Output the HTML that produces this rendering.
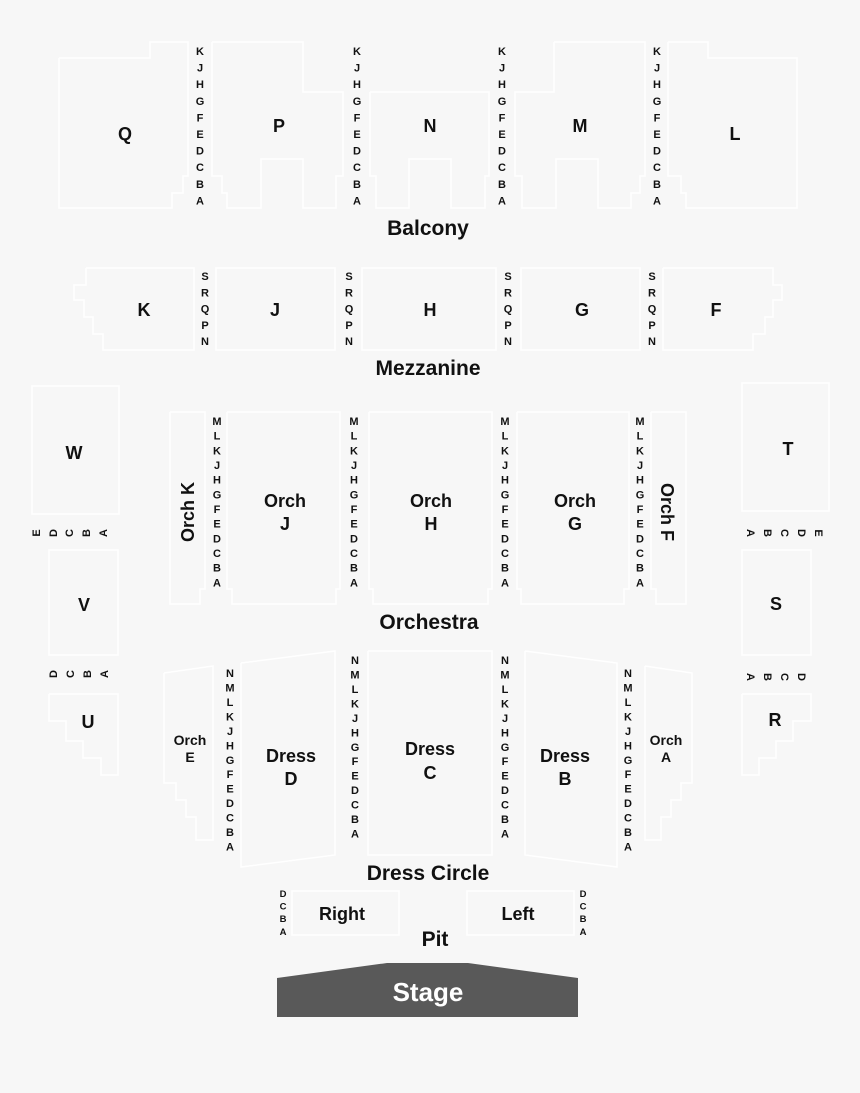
<!DOCTYPE html>
<html><head><meta charset="utf-8"><style>
html,body{margin:0;padding:0;background:#f7f7f7}
svg{display:block}
text{font-family:"Liberation Sans",Arial,sans-serif;font-weight:bold;fill:#111}
.r{font-size:11px;text-anchor:middle}
.s{font-size:18px;text-anchor:middle}
.b{font-size:21px;text-anchor:middle}
.sh{fill:none;stroke:#ffffff;stroke-width:1.5}
</style></head><body>
<svg width="860" height="1093" viewBox="0 0 860 1093" xmlns="http://www.w3.org/2000/svg">
<rect width="860" height="1093" fill="#f7f7f7"/>
<!-- shapes -->
<g class="sh">
<polyline points="59,58 150,58 150,42 188,42 188,176 183,176 183,193 172,193 172,208 59,208 59,58"/>
<polyline points="212,42 303,42 303,92 343,92 343,176 336,176 336,208 303,208 303,159 261,159 261,208 227,208 227,193 222,193 222,176 212,176 212,42"/>
<polyline points="370,92 489,92 489,176 485,176 485,208 451,208 451,159 409,159 409,208 376,208 376,176 370,176 370,92"/>
<polyline points="554,42 645,42 645,176 640,176 640,193 631,193 631,208 598,208 598,159 556,159 556,208 522,208 522,176 515,176 515,92 554,92 554,42"/>
<polyline points="668,42 708,42 708,58 797,58 797,208 686,208 686,193 681,193 681,176 668,176 668,42"/>
<polyline points="86,268 194,268 194,350 103,350 103,334 93,334 93,317 84,317 84,300 74,300 74,285 86,285 86,268"/>
<rect x="216" y="268" width="119" height="82"/>
<rect x="362" y="268" width="134" height="82"/>
<rect x="521" y="268" width="119" height="82"/>
<polyline points="663,268 773,268 773,285 782,285 782,300 773,300 773,317 765,317 765,334 753,334 753,350 663,350 663,268"/>
<rect x="32" y="386" width="87" height="128"/>
<rect x="49" y="550" width="69" height="105"/>
<polyline points="49,694 118,694 118,775 101,775 101,758 83,758 83,741 66,741 66,721 49,721 49,694"/>
<rect x="742" y="383" width="87" height="128"/>
<rect x="742" y="550" width="69" height="105"/>
<polyline points="742,694 811,694 811,721 793,721 793,741 776,741 776,758 759,758 759,775 742,775 742,694"/>
<polyline points="170,412 205,412 205,589 200,589 200,604 170,604 170,412"/>
<polyline points="227,412 340,412 340,589 336,589 336,604 232,604 232,589 227,589 227,412"/>
<polyline points="369,412 492,412 492,589 488,589 488,604 373,604 373,589 369,589 369,412"/>
<polyline points="517,412 629,412 629,589 624,589 624,604 521,604 521,589 517,589 517,412"/>
<polyline points="651,412 686,412 686,604 656,604 656,589 651,589 651,412"/>
<polyline points="164,673 213,666 213,840 196,840 196,817 186,817 186,800 176,800 176,783 164,783 164,673"/>
<polyline points="241,663 335,651 335,855 241,867 241,663"/>
<polyline points="368,651 492,651 492,855 368,855 368,651"/>
<polyline points="525,651 617,663 617,867 525,855 525,651"/>
<polyline points="645,666 692,673 692,783 681,783 681,800 671,800 671,817 661,817 661,840 645,840 645,666"/>
<rect x="292" y="891" width="107" height="44"/>
<rect x="467" y="891" width="107" height="44"/>
</g>
<!-- Balcony row letters -->
<g class="r">
<text x="200" y="55"><tspan x="200">K</tspan><tspan x="200" dy="16.6">J</tspan><tspan x="200" dy="16.6">H</tspan><tspan x="200" dy="16.6">G</tspan><tspan x="200" dy="16.6">F</tspan><tspan x="200" dy="16.6">E</tspan><tspan x="200" dy="16.6">D</tspan><tspan x="200" dy="16.6">C</tspan><tspan x="200" dy="16.6">B</tspan><tspan x="200" dy="16.6">A</tspan></text>
<text x="357" y="55"><tspan x="357">K</tspan><tspan x="357" dy="16.6">J</tspan><tspan x="357" dy="16.6">H</tspan><tspan x="357" dy="16.6">G</tspan><tspan x="357" dy="16.6">F</tspan><tspan x="357" dy="16.6">E</tspan><tspan x="357" dy="16.6">D</tspan><tspan x="357" dy="16.6">C</tspan><tspan x="357" dy="16.6">B</tspan><tspan x="357" dy="16.6">A</tspan></text>
<text x="502" y="55"><tspan x="502">K</tspan><tspan x="502" dy="16.6">J</tspan><tspan x="502" dy="16.6">H</tspan><tspan x="502" dy="16.6">G</tspan><tspan x="502" dy="16.6">F</tspan><tspan x="502" dy="16.6">E</tspan><tspan x="502" dy="16.6">D</tspan><tspan x="502" dy="16.6">C</tspan><tspan x="502" dy="16.6">B</tspan><tspan x="502" dy="16.6">A</tspan></text>
<text x="657" y="55"><tspan x="657">K</tspan><tspan x="657" dy="16.6">J</tspan><tspan x="657" dy="16.6">H</tspan><tspan x="657" dy="16.6">G</tspan><tspan x="657" dy="16.6">F</tspan><tspan x="657" dy="16.6">E</tspan><tspan x="657" dy="16.6">D</tspan><tspan x="657" dy="16.6">C</tspan><tspan x="657" dy="16.6">B</tspan><tspan x="657" dy="16.6">A</tspan></text>
<!-- Mezz -->
<text x="205" y="280"><tspan x="205">S</tspan><tspan x="205" dy="16.25">R</tspan><tspan x="205" dy="16.25">Q</tspan><tspan x="205" dy="16.25">P</tspan><tspan x="205" dy="16.25">N</tspan></text>
<text x="349" y="280"><tspan x="349">S</tspan><tspan x="349" dy="16.25">R</tspan><tspan x="349" dy="16.25">Q</tspan><tspan x="349" dy="16.25">P</tspan><tspan x="349" dy="16.25">N</tspan></text>
<text x="508" y="280"><tspan x="508">S</tspan><tspan x="508" dy="16.25">R</tspan><tspan x="508" dy="16.25">Q</tspan><tspan x="508" dy="16.25">P</tspan><tspan x="508" dy="16.25">N</tspan></text>
<text x="652" y="280"><tspan x="652">S</tspan><tspan x="652" dy="16.25">R</tspan><tspan x="652" dy="16.25">Q</tspan><tspan x="652" dy="16.25">P</tspan><tspan x="652" dy="16.25">N</tspan></text>
<!-- Orchestra -->
<text x="217" y="425"><tspan x="217">M</tspan><tspan x="217" dy="14.67">L</tspan><tspan x="217" dy="14.67">K</tspan><tspan x="217" dy="14.67">J</tspan><tspan x="217" dy="14.67">H</tspan><tspan x="217" dy="14.67">G</tspan><tspan x="217" dy="14.67">F</tspan><tspan x="217" dy="14.67">E</tspan><tspan x="217" dy="14.67">D</tspan><tspan x="217" dy="14.67">C</tspan><tspan x="217" dy="14.67">B</tspan><tspan x="217" dy="14.67">A</tspan></text>
<text x="354" y="425"><tspan x="354">M</tspan><tspan x="354" dy="14.67">L</tspan><tspan x="354" dy="14.67">K</tspan><tspan x="354" dy="14.67">J</tspan><tspan x="354" dy="14.67">H</tspan><tspan x="354" dy="14.67">G</tspan><tspan x="354" dy="14.67">F</tspan><tspan x="354" dy="14.67">E</tspan><tspan x="354" dy="14.67">D</tspan><tspan x="354" dy="14.67">C</tspan><tspan x="354" dy="14.67">B</tspan><tspan x="354" dy="14.67">A</tspan></text>
<text x="505" y="425"><tspan x="505">M</tspan><tspan x="505" dy="14.67">L</tspan><tspan x="505" dy="14.67">K</tspan><tspan x="505" dy="14.67">J</tspan><tspan x="505" dy="14.67">H</tspan><tspan x="505" dy="14.67">G</tspan><tspan x="505" dy="14.67">F</tspan><tspan x="505" dy="14.67">E</tspan><tspan x="505" dy="14.67">D</tspan><tspan x="505" dy="14.67">C</tspan><tspan x="505" dy="14.67">B</tspan><tspan x="505" dy="14.67">A</tspan></text>
<text x="640" y="425"><tspan x="640">M</tspan><tspan x="640" dy="14.67">L</tspan><tspan x="640" dy="14.67">K</tspan><tspan x="640" dy="14.67">J</tspan><tspan x="640" dy="14.67">H</tspan><tspan x="640" dy="14.67">G</tspan><tspan x="640" dy="14.67">F</tspan><tspan x="640" dy="14.67">E</tspan><tspan x="640" dy="14.67">D</tspan><tspan x="640" dy="14.67">C</tspan><tspan x="640" dy="14.67">B</tspan><tspan x="640" dy="14.67">A</tspan></text>
<!-- Dress -->
<text x="230" y="677"><tspan x="230">N</tspan><tspan x="230" dy="14.46">M</tspan><tspan x="230" dy="14.46">L</tspan><tspan x="230" dy="14.46">K</tspan><tspan x="230" dy="14.46">J</tspan><tspan x="230" dy="14.46">H</tspan><tspan x="230" dy="14.46">G</tspan><tspan x="230" dy="14.46">F</tspan><tspan x="230" dy="14.46">E</tspan><tspan x="230" dy="14.46">D</tspan><tspan x="230" dy="14.46">C</tspan><tspan x="230" dy="14.46">B</tspan><tspan x="230" dy="14.46">A</tspan></text>
<text x="355" y="664"><tspan x="355">N</tspan><tspan x="355" dy="14.46">M</tspan><tspan x="355" dy="14.46">L</tspan><tspan x="355" dy="14.46">K</tspan><tspan x="355" dy="14.46">J</tspan><tspan x="355" dy="14.46">H</tspan><tspan x="355" dy="14.46">G</tspan><tspan x="355" dy="14.46">F</tspan><tspan x="355" dy="14.46">E</tspan><tspan x="355" dy="14.46">D</tspan><tspan x="355" dy="14.46">C</tspan><tspan x="355" dy="14.46">B</tspan><tspan x="355" dy="14.46">A</tspan></text>
<text x="505" y="664"><tspan x="505">N</tspan><tspan x="505" dy="14.46">M</tspan><tspan x="505" dy="14.46">L</tspan><tspan x="505" dy="14.46">K</tspan><tspan x="505" dy="14.46">J</tspan><tspan x="505" dy="14.46">H</tspan><tspan x="505" dy="14.46">G</tspan><tspan x="505" dy="14.46">F</tspan><tspan x="505" dy="14.46">E</tspan><tspan x="505" dy="14.46">D</tspan><tspan x="505" dy="14.46">C</tspan><tspan x="505" dy="14.46">B</tspan><tspan x="505" dy="14.46">A</tspan></text>
<text x="628" y="677"><tspan x="628">N</tspan><tspan x="628" dy="14.46">M</tspan><tspan x="628" dy="14.46">L</tspan><tspan x="628" dy="14.46">K</tspan><tspan x="628" dy="14.46">J</tspan><tspan x="628" dy="14.46">H</tspan><tspan x="628" dy="14.46">G</tspan><tspan x="628" dy="14.46">F</tspan><tspan x="628" dy="14.46">E</tspan><tspan x="628" dy="14.46">D</tspan><tspan x="628" dy="14.46">C</tspan><tspan x="628" dy="14.46">B</tspan><tspan x="628" dy="14.46">A</tspan></text>
</g>
<!-- Pit letters -->
<g style="font-size:9.5px;text-anchor:middle">
<text x="283" y="897"><tspan x="283">D</tspan><tspan x="283" dy="12.6">C</tspan><tspan x="283" dy="12.6">B</tspan><tspan x="283" dy="12.6">A</tspan></text>
<text x="583" y="897"><tspan x="583">D</tspan><tspan x="583" dy="12.6">C</tspan><tspan x="583" dy="12.6">B</tspan><tspan x="583" dy="12.6">A</tspan></text>
</g>
<!-- rotated side letters -->
<g class="r">
<text transform="translate(40,533) rotate(-90)">E</text>
<text transform="translate(57,533) rotate(-90)">D</text>
<text transform="translate(73,533) rotate(-90)">C</text>
<text transform="translate(90,533) rotate(-90)">B</text>
<text transform="translate(107,533) rotate(-90)">A</text>
<text transform="translate(57,674) rotate(-90)">D</text>
<text transform="translate(74,674) rotate(-90)">C</text>
<text transform="translate(91,674) rotate(-90)">B</text>
<text transform="translate(108,674) rotate(-90)">A</text>
<text transform="translate(747,533) rotate(90)">A</text>
<text transform="translate(764,533) rotate(90)">B</text>
<text transform="translate(781,533) rotate(90)">C</text>
<text transform="translate(798,533) rotate(90)">D</text>
<text transform="translate(815,533) rotate(90)">E</text>
<text transform="translate(747,677) rotate(90)">A</text>
<text transform="translate(764,677) rotate(90)">B</text>
<text transform="translate(781,677) rotate(90)">C</text>
<text transform="translate(798,677) rotate(90)">D</text>
</g>
<!-- section labels -->
<g class="s">
<text x="125" y="140">Q</text>
<text x="279" y="132">P</text>
<text x="430" y="132">N</text>
<text x="580" y="132">M</text>
<text x="735" y="140">L</text>
<text x="144" y="316">K</text>
<text x="275" y="316">J</text>
<text x="430" y="316">H</text>
<text x="582" y="316">G</text>
<text x="716" y="316">F</text>
<text x="74" y="459">W</text>
<text x="788" y="455">T</text>
<text x="84" y="611">V</text>
<text x="776" y="610">S</text>
<text x="88" y="728">U</text>
<text x="775" y="726">R</text>
<text x="285" y="507">Orch</text><text x="285" y="530">J</text>
<text x="431" y="507">Orch</text><text x="431" y="530">H</text>
<text x="575" y="507">Orch</text><text x="575" y="530">G</text>
<text transform="translate(194,512) rotate(-90)">Orch K</text>
<text transform="translate(661,512) rotate(90)">Orch F</text>
<text x="291" y="762">Dress</text><text x="291" y="785">D</text>
<text x="430" y="755">Dress</text><text x="430" y="779">C</text>
<text x="565" y="762">Dress</text><text x="565" y="785">B</text>
<text x="342" y="920">Right</text>
<text x="518" y="920">Left</text>
</g>
<g style="font-size:14px;text-anchor:middle">
<text x="190" y="745">Orch</text><text x="190" y="762">E</text>
<text x="666" y="745">Orch</text><text x="666" y="762">A</text>
</g>
<g class="b">
<text x="428" y="235">Balcony</text>
<text x="428" y="375">Mezzanine</text>
<text x="429" y="629">Orchestra</text>
<text x="428" y="880">Dress Circle</text>
<text x="435" y="946">Pit</text>
</g>
<polygon points="277,978 387,963 468,963 578,978 578,1017 277,1017" fill="#595959"/>
<text x="428" y="1001" style="font-size:26px;text-anchor:middle;fill:#ffffff">Stage</text>
</svg>
</body></html>
